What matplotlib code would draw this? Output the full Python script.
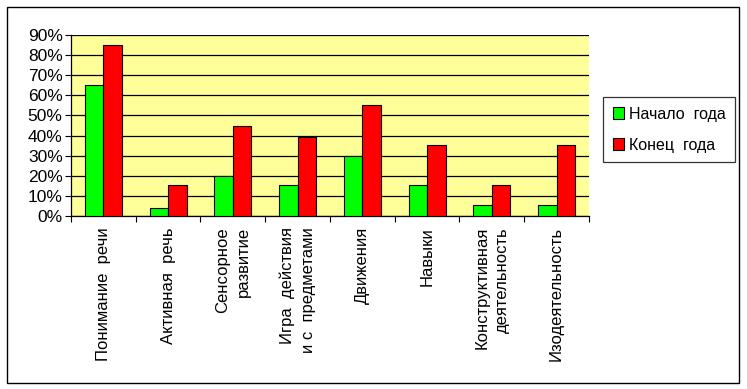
import numpy as np
import matplotlib.pyplot as plt
from matplotlib.patches import Rectangle
from matplotlib.ticker import PercentFormatter

plt.rcParams['font.family'] = ['Liberation Sans', 'DejaVu Sans']

categories = [
    'Понимание  речи',
    'Активная  речь',
    'Сенсорное\nразвитие',
    'Игра  действия\nи с  предметами',
    'Движения',
    'Навыки',
    'Конструктивная\nдеятельность',
    'Изодеятельность',
]
start_year = [65, 4, 20, 15.5, 30, 15.5, 5.5, 5.5]
end_year = [85, 15.5, 45, 39.5, 55, 35.5, 15.5, 35.5]
series_names = ['Начало  года', 'Конец  года']

fig = plt.figure(figsize=(7.47, 3.89), dpi=100)
ax = fig.add_axes([71 / 747, 1 - 216 / 389, 518 / 747, 181 / 389])
ax.set_facecolor('#ffff99')

x = np.arange(len(categories))
w = 1 / 3.5
ax.bar(x - w / 2, start_year, w, color='#00ff00', edgecolor='black',
       linewidth=0.8, label=series_names[0], zorder=3)
ax.bar(x + w / 2, end_year, w, color='#ff0000', edgecolor='black',
       linewidth=0.8, label=series_names[1], zorder=3)

ax.set_xlim(-0.5, len(categories) - 0.5)
ax.set_ylim(0, 90)
ax.set_yticks(np.arange(0, 91, 10))
ax.yaxis.set_major_formatter(PercentFormatter(decimals=0))
ax.grid(axis='y', color='black', linewidth=0.9, zorder=1)

ax.set_xticks(np.arange(-0.5, len(categories), 1))
ax.set_xticklabels([])
ax.set_xticks(x, minor=True)
ax.set_xticklabels(categories, minor=True, rotation=90, va='top',
                   ha='center', multialignment='right', fontsize=12,
                   linespacing=1.45)
ax.tick_params(axis='x', which='minor', length=0, pad=8)
ax.tick_params(axis='x', which='major', length=4, direction='out')
ax.tick_params(axis='y', length=4, labelsize=12.5, pad=2)

for side in ['top', 'right']:
    ax.spines[side].set_visible(False)
ax.spines['left'].set_linewidth(0.9)
ax.spines['bottom'].set_linewidth(0.9)

leg = fig.legend(loc='upper left', bbox_to_anchor=(603 / 747, 1 - 97 / 389),
                 frameon=True, fancybox=False, edgecolor='black',
                 fontsize=11.5, handlelength=0.7, handleheight=0.7,
                 handletextpad=0.3, labelspacing=1.0, borderpad=0.6,
                 borderaxespad=0)
leg.get_frame().set_linewidth(0.9)

fig.patches.append(Rectangle((7 / 747, 1 - 383 / 389), 732 / 747, 376 / 389,
                             transform=fig.transFigure, fill=False,
                             edgecolor='black', linewidth=1))

fig.savefig('out.png', dpi=100)
